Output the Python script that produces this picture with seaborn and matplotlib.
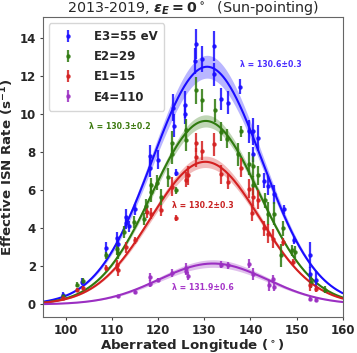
import numpy as np
import pandas as pd
import matplotlib
matplotlib.use("Agg")
import matplotlib.pyplot as plt
import seaborn as sns

# ---------------- data ----------------
e3_lon = [99.3, 103.5, 108.6, 111.0, 111.3, 113.0, 113.0, 113.6, 114.9, 118.3, 118.3, 120.0,
          123.2, 123.4, 123.8, 125.9, 125.9, 128.2, 127.9, 129.6, 132.2, 132.1, 133.7, 135.2,
          137.8, 139.7, 140.6, 141.6, 140.6, 143.0, 143.8, 145.0, 147.3, 149.5, 152.9, 152.9, 154.2]
e3_val = [0.50, 1.20, 2.95, 3.50, 3.20, 4.30, 4.60, 4.10, 5.00, 7.80, 7.20, 7.60,
          10.35, 9.40, 6.93, 10.50, 10.00, 13.70, 12.80, 12.90, 13.60, 12.10, 10.80, 10.60,
          11.45, 9.10, 9.10, 8.75, 7.90, 6.50, 6.25, 5.80, 5.00, 3.40, 2.60, 1.58, 1.26]
e3_err = [0.15, 0.20, 0.35, 0.30, 0.30, 0.35, 0.40, 0.30, 0.30, 0.60, 0.50, 0.50,
          0.70, 0.60, 0.20, 0.70, 0.50, 0.80, 0.70, 0.70, 0.80, 0.60, 0.60, 0.60,
          0.40, 0.60, 0.70, 0.70, 0.40, 0.40, 0.50, 0.50, 0.25, 0.20, 0.70, 0.40, 0.50]

e2_lon = [99.3, 102.4, 103.7, 108.6, 111.0, 111.3, 112.5, 114.7, 117.0, 117.3, 118.5, 118.5,
          119.8, 120.7, 122.2, 123.1, 123.0, 123.8, 126.1, 126.1, 128.2, 129.6, 132.3, 133.7,
          135.0, 137.9, 137.2, 139.6, 140.6, 141.6, 140.6, 143.1, 143.8, 145.1, 147.1, 148.9,
          146.7, 149.6, 153.2, 156.1]
e2_val = [0.42, 1.04, 1.23, 2.58, 2.90, 2.70, 3.80, 4.33, 4.50, 5.16, 5.90, 6.26,
          6.40, 5.65, 6.70, 8.50, 7.90, 6.00, 8.67, 9.16, 11.26, 10.74, 10.20, 9.07,
          8.70, 9.10, 7.90, 7.40, 7.30, 6.80, 6.26, 5.47, 4.77, 4.77, 4.00, 2.84,
          2.58, 2.75, 1.18, 0.78]
e2_err = [0.10, 0.15, 0.15, 0.20, 0.30, 0.30, 0.30, 0.30, 0.30, 0.40, 0.50, 0.40,
          0.40, 0.40, 0.50, 0.60, 0.50, 0.20, 0.60, 0.60, 0.70, 0.60, 0.60, 0.50,
          0.50, 0.30, 0.60, 0.60, 0.60, 0.50, 0.50, 0.40, 0.60, 0.60, 0.40, 0.30,
          0.60, 0.30, 0.30, 0.20]

e1_lon = [99.3, 102.4, 103.7, 108.6, 111.0, 111.3, 113.0, 114.9, 117.6, 118.4, 120.6, 123.0,
          123.8, 126.1, 126.5, 128.2, 128.2, 129.6, 132.2, 133.7, 135.2, 137.9, 139.6, 140.6,
          141.6, 140.4, 143.0, 143.9, 144.9, 147.1, 149.2, 152.9, 154.3]
e1_val = [0.33, 0.77, 0.88, 1.91, 2.05, 1.79, 3.00, 3.37, 4.86, 4.77, 4.95, 6.18,
          4.56, 6.55, 6.80, 8.50, 7.75, 8.07, 8.43, 6.85, 6.45, 7.20, 6.09, 5.65,
          5.50, 4.80, 4.00, 3.72, 3.45, 3.28, 2.23, 1.00, 0.83]
e1_err = [0.10, 0.10, 0.10, 0.15, 0.30, 0.30, 0.30, 0.20, 0.30, 0.30, 0.30, 0.50,
          0.15, 0.40, 0.50, 0.50, 0.50, 0.50, 0.60, 0.50, 0.40, 0.50, 0.50, 0.50,
          0.50, 0.40, 0.40, 0.50, 0.50, 0.20, 0.15, 0.30, 0.20]

e4_lon = [111.3, 114.9, 118.2, 118.2, 120.0, 122.9, 126.1, 126.0, 126.5, 133.7, 135.2, 139.7,
          140.6, 144.9, 144.0, 145.0, 153.0, 154.3]
e4_val = [0.42, 0.65, 1.44, 1.10, 1.30, 1.65, 1.90, 1.75, 1.50, 2.09, 2.05, 2.14,
          1.60, 1.35, 1.00, 0.91, 0.30, 0.25]
e4_err = [0.10, 0.10, 0.20, 0.20, 0.10, 0.20, 0.30, 0.20, 0.20, 0.20, 0.20, 0.25,
          0.30, 0.20, 0.30, 0.20, 0.10, 0.10]

# fitted peak parameters (amplitude, centre lambda, width, band half-width at peak)
fit_amp = [12.5, 9.65, 7.5, 2.15]
fit_center = [130.6, 130.3, 130.2, 131.9]
fit_width = [11.9, 11.6, 11.8, 11.8]
fit_band = [0.6, 0.32, 0.3, 0.2]
lambda_labels = ["λ = 130.6±0.3", "λ = 130.3±0.2", "λ = 130.2±0.3", "λ = 131.9±0.6"]
series_names = ["E3=55 eV", "E2=29", "E1=15", "E4=110"]

x_ticks = [100, 110, 120, 130, 140, 150, 160]
y_ticks = [0, 2, 4, 6, 8, 10, 12, 14]

# ---------------- style ----------------
sns.set_style("ticks")
plt.rcParams['font.family'] = ['DejaVu Sans']
plt.rcParams['font.weight'] = 'bold'

colors = ["#1a0dff", "#2f7a0f", "#d42020", "#9b2fc2"]
text_colors = ["#4a2dff", "#3d7a10", "#c82020", "#a535c8"]
label_pos = [(137.8, 12.6), (105.0, 9.37), (123.1, 5.2), (123.1, 0.91)]

fig = plt.figure(figsize=(3.57, 3.53), dpi=100)
ax = fig.add_axes([0.12, 0.101, 0.840, 0.850])

lons = [e3_lon, e2_lon, e1_lon, e4_lon]
vals = [e3_val, e2_val, e1_val, e4_val]
errs = [e3_err, e2_err, e1_err, e4_err]

xgrid = np.linspace(95, 160, 300)
for i in range(4):
    shape = np.exp(-(xgrid - fit_center[i]) ** 2 / (2 * fit_width[i] ** 2))
    model = fit_amp[i] * shape
    band = fit_band[i] * shape
    ax.fill_between(xgrid, model - band, model + band, color=colors[i], alpha=0.3, lw=0, zorder=1)
    df = pd.DataFrame({"lon": xgrid, "rate": model})
    sns.lineplot(data=df, x="lon", y="rate", color=colors[i], lw=1.5, ax=ax, legend=False, zorder=2)

handles = []
for i in range(4):
    h = ax.errorbar(lons[i], vals[i], yerr=errs[i], fmt='o', ms=2.2, color=colors[i],
                    ecolor=colors[i], elinewidth=1.6, capsize=0, alpha=0.85,
                    label=series_names[i], zorder=3)
    handles.append(h)
    ax.text(label_pos[i][0], label_pos[i][1], lambda_labels[i], color=text_colors[i],
            fontsize=5.6, fontweight='bold', ha='left', va='center')

ax.set_xlim(95, 160)
ax.set_ylim(-0.68, 15.1)
ax.set_xticks(x_ticks)
ax.set_yticks(y_ticks)
ax.tick_params(labelsize=8.5, width=0.8, length=2.5, pad=2.5, color="#444444")
for lab in ax.get_xticklabels() + ax.get_yticklabels():
    lab.set_fontweight('bold')
for s in ax.spines.values():
    s.set_color("#666666")
    s.set_linewidth(0.8)

ax.set_xlabel("Aberrated Longitude ($^\\circ$)", fontsize=9.6, fontweight='bold')
ax.set_ylabel("Effective ISN Rate (s$^{-1}$)", fontsize=9.6, fontweight='bold')
ax.xaxis.set_label_coords(0.5, -0.065)
ax.yaxis.set_label_coords(-0.088, 0.5)
ax.set_title("2013-2019, $\\boldsymbol{\\varepsilon_E=0}^\\circ$  (Sun-pointing)",
             fontsize=10.3, fontweight='normal', pad=1.2)

leg = ax.legend(handles=handles, labels=series_names, loc='upper left', fontsize=8.5,
                frameon=True, handletextpad=1.2, borderpad=0.6, labelspacing=0.6,
                bbox_to_anchor=(0.0, 1.0))
for t in leg.get_texts():
    t.set_fontweight('bold')

fig.savefig("out.png", dpi=100)
